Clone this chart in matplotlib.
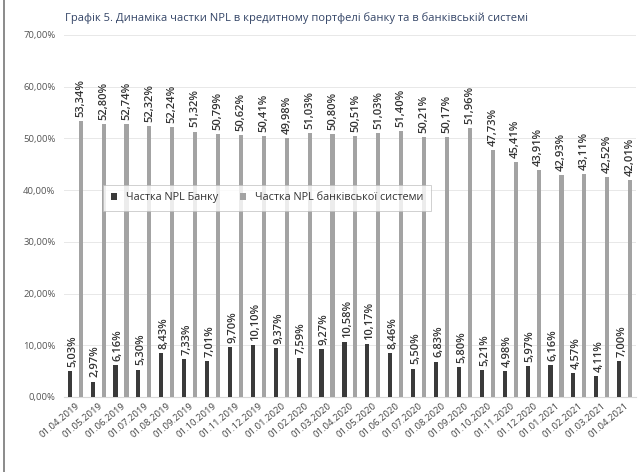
import matplotlib
matplotlib.use("Agg")
import matplotlib.pyplot as plt
import numpy as np
from matplotlib.ticker import FuncFormatter

dates = ["01.04.2019", "01.05.2019", "01.06.2019", "01.07.2019", "01.08.2019",
         "01.09.2019", "01.10.2019", "01.11.2019", "01.12.2019", "01.01.2020",
         "01.02.2020", "01.03.2020", "01.04.2020", "01.05.2020", "01.06.2020",
         "01.07.2020", "01.08.2020", "01.09.2020", "01.10.2020", "01.11.2020",
         "01.12.2020", "01.01.2021", "01.02.2021", "01.03.2021", "01.04.2021"]
bank = [5.03, 2.97, 6.16, 5.30, 8.43, 7.33, 7.01, 9.70, 10.10, 9.37,
        7.59, 9.27, 10.58, 10.17, 8.46, 5.50, 6.83, 5.80, 5.21, 4.98,
        5.97, 6.16, 4.57, 4.11, 7.00]
system = [53.34, 52.80, 52.74, 52.32, 52.24, 51.32, 50.79, 50.62, 50.41, 49.98,
          51.03, 50.80, 50.51, 51.03, 51.40, 50.21, 50.17, 51.96, 47.73, 45.41,
          43.91, 42.93, 43.11, 42.52, 42.01]
series_names = ["Частка NPL Банку", "Частка NPL банківської системи"]
title = "Графік 5. Динаміка частки NPL в кредитному портфелі банку та в банківській системі"

plt.rcParams['font.family'] = ['Open Sans', 'DejaVu Sans']

fig = plt.figure(figsize=(6.38, 4.72), dpi=100)
ax = fig.add_axes([0.100, 0.159, 0.897, 0.767])

x = np.arange(len(dates))
w = 0.18
off = 0.24
bank_c = "#3a3a3a"
sys_c = "#a3a3a3"
ax.bar(x - off, bank, width=w, color=bank_c, label=series_names[0], zorder=3)
ax.bar(x + off, system, width=w, color=sys_c, label=series_names[1], zorder=3)

fmt = lambda v: f"{v:.2f}".replace(".", ",") + "%"
for xi, v in zip(x, bank):
    ax.text(xi - off + 0.12, v + 0.8, fmt(v), rotation=90, ha="center", va="bottom",
            fontsize=8, fontweight="semibold", color="#333333", zorder=4)
for xi, v in zip(x, system):
    ax.text(xi + off, v + 0.8, fmt(v), rotation=90, ha="center", va="bottom",
            fontsize=8, fontweight="semibold", color="#333333", zorder=4)

ax.set_xlim(-0.5, len(dates) - 0.5)
ax.set_ylim(0, 70)
ax.set_yticks(np.arange(0, 71, 10))
ax.yaxis.set_major_formatter(FuncFormatter(lambda v, p: f"{v:.2f}".replace(".", ",") + "%"))
ax.set_xticks(x)
ax.set_xticklabels(dates, rotation=40, ha="right", rotation_mode="anchor", fontsize=6.8, color="#444444")
ax.tick_params(axis="y", labelsize=6.8, colors="#555555", length=0, pad=6)
ax.tick_params(axis="x", length=0, pad=3)
ax.grid(axis="y", color="#e8e8e8", linewidth=0.7, zorder=0)
for s in ["top", "right", "left"]:
    ax.spines[s].set_visible(False)
ax.spines["bottom"].set_color("#d8d8d8")

leg = ax.legend(loc="center", bbox_to_anchor=(0.355, 0.55), ncol=2, fontsize=7.8,
                frameon=True, fancybox=False, handlelength=0.6, handleheight=0.6,
                columnspacing=2.0, borderpad=0.7)
leg.get_frame().set_edgecolor("#bbbbbb")
leg.get_frame().set_linewidth(0.6)
for t in leg.get_texts():
    t.set_color("#333333")

fig.text(0.102, 0.962, title, fontsize=8, color="#334466", ha="left", va="center")
fig.add_artist(plt.Line2D([0.006, 0.006], [0.0, 1.0], color="#777777", linewidth=1.2))

fig.savefig("out.png", dpi=100)
